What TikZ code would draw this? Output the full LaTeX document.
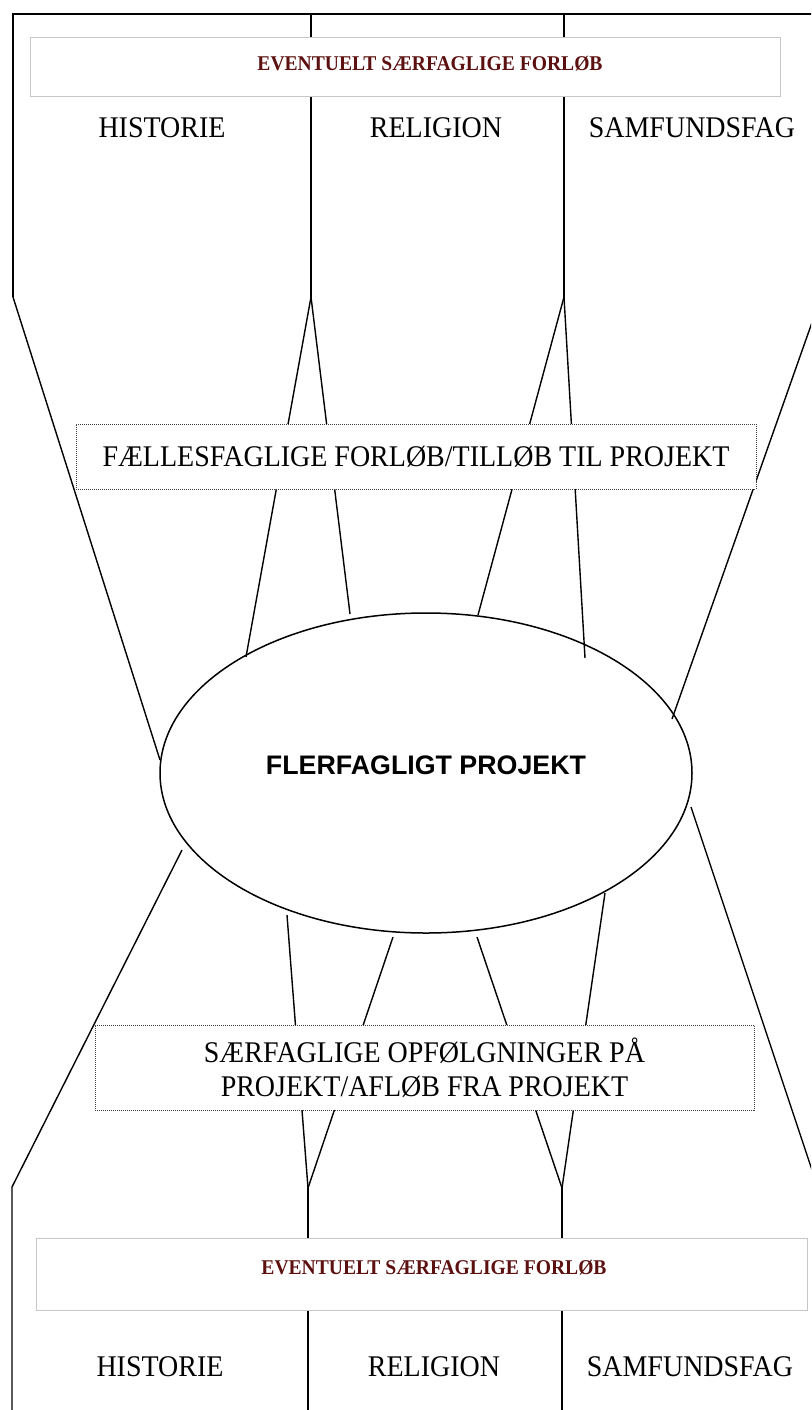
\documentclass[tikz,border=0pt]{standalone}
\usepackage{fontspec}
\setmainfont{Liberation Serif}
\newfontfamily\tallserif[FakeStretch=0.933]{Liberation Serif}
\newfontfamily\arialfont{Liberation Sans}
\usetikzlibrary{shapes.geometric}
\definecolor{darkred}{RGB}{92,16,16}

\begin{document}
\begin{tikzpicture}[x=1pt,y=-1pt]
    \useasboundingbox (0,0) rectangle (811,1410);
    \clip (0,0) rectangle (811,1410);

    % corners, apexes and line ends
    \coordinate (tl) at (13,14);
    \coordinate (tr) at (821,14);
    \coordinate (kl) at (13,297);
    \coordinate (kr) at (821,297);
    \coordinate (h0) at (311,14);
    \coordinate (h1) at (311,297);
    \coordinate (s0) at (564,14);
    \coordinate (s1) at (564,297);
    \coordinate (a1) at (160,760);
    \coordinate (a2) at (246,657);
    \coordinate (a3) at (350,614);
    \coordinate (a4) at (478,615);
    \coordinate (a5) at (585,658);
    \coordinate (a6) at (672,719);
    \coordinate (b1) at (182,850);
    \coordinate (b2) at (287,915);
    \coordinate (b3) at (393,937);
    \coordinate (b4) at (477,937);
    \coordinate (b5) at (605,893);
    \coordinate (b6) at (691,807);
    \coordinate (lk) at (12,1187);
    \coordinate (h2) at (308,1188);
    \coordinate (s2) at (562,1188);
    \coordinate (rk) at (818,1188);
    \coordinate (lb) at (12,1420);
    \coordinate (h3) at (308,1420);
    \coordinate (s3) at (562,1420);
    \coordinate (rb) at (818,1420);

    \begin{scope}[line width=1.4pt, black]
        \draw (kl) -- (tl) -- (tr) -- (kr);
        \draw (kl) edge (a1);
        \draw (kr) edge (a6);
        \draw (h0) edge (h1);
        \draw (h1) edge (a2);
        \draw (h1) edge (a3);
        \draw (s0) edge (s1);
        \draw (s1) edge (a4);
        \draw (s1) edge (a5);
        \draw (b1) -- (lk) -- (lb);
        \draw (b6) -- (rk) -- (rb);
        \draw (b2) edge (h2);
        \draw (b3) edge (h2);
        \draw (h2) edge (h3);
        \draw (b4) edge (s2);
        \draw (b5) edge (s2);
        \draw (s2) edge (s3);
    \end{scope}

    \begin{scope}[every node/.style={inner sep=0pt},
        fagbox/.style={draw=black!22, line width=1pt, fill=white, rectangle},
        prikbox/.style={draw=black!75, line width=0.8pt, dash pattern=on 1pt off 1pt,
            fill=white, rectangle, align=center, font=\tallserif\fontsize{30}{34}\selectfont},
        redtext/.style={text=darkred, font=\tallserif\bfseries\fontsize{21}{24}\selectfont},
        faglabel/.style={font=\tallserif\fontsize{30}{34}\selectfont}]
        \node[fagbox, minimum width=750, minimum height=59] (top) at (405,67.5) {};
        \node[redtext] (toptext) at (430,64) {EVENTUELT SÆRFAGLIGE FORLØB};
        \node[faglabel] (hist1) at (162,128) {HISTORIE};
        \node[faglabel] (rel1) at (436,128) {RELIGION};
        \node[faglabel] (samf1) at (692,128) {SAMFUNDSFAG};

        \node[prikbox, minimum width=680, minimum height=65] (till) at (416,456.5)
            {FÆLLESFAGLIGE FORLØB/TILLØB TIL PROJEKT};

        \node[ellipse, draw, line width=1.5pt, minimum width=532, minimum height=320] (proj) at (426,773) {};
        \node[font=\arialfont\bfseries\fontsize{26.8}{30}\selectfont] (projtext) at (426,765) {FLERFAGLIGT PROJEKT};

        \node[prikbox, minimum width=659, minimum height=85] (aflob) at (424.5,1067.5)
            {SÆRFAGLIGE OPFØLGNINGER PÅ\\PROJEKT/AFLØB FRA PROJEKT};

        \node[fagbox, minimum width=771, minimum height=72] (bund) at (421.5,1274) {};
        \node[redtext] (bundtext) at (434,1268) {EVENTUELT SÆRFAGLIGE FORLØB};
        \node[faglabel] (hist2) at (160,1367) {HISTORIE};
        \node[faglabel] (rel2) at (434,1367) {RELIGION};
        \node[faglabel] (samf2) at (690,1367) {SAMFUNDSFAG};
    \end{scope}
\end{tikzpicture}
\end{document}
